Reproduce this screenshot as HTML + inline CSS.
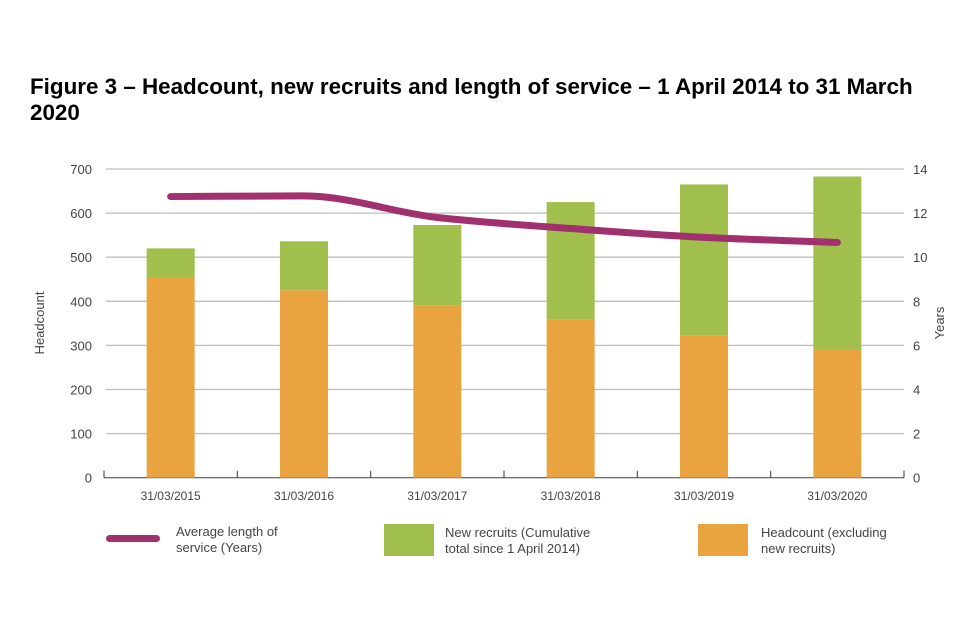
<!DOCTYPE html>
<html><head><meta charset="utf-8"><style>
body{margin:0;background:#fff;width:960px;height:640px;overflow:hidden;font-family:"Liberation Sans",sans-serif}
h1{position:absolute;left:30px;top:74px;margin:0;font-size:22.4px;font-weight:bold;line-height:26px;color:#000;width:930px;white-space:nowrap}
svg{position:absolute;left:0;top:0}
svg text{font-family:"Liberation Sans",sans-serif;fill:#444}
</style></head><body>
<h1>Figure 3 – Headcount, new recruits and length of service – 1 April 2014 to 31 March<br>2020</h1>
<svg id="c" width="960" height="640"></svg>
<script>
const categories=["31/03/2015","31/03/2016","31/03/2017","31/03/2018","31/03/2019","31/03/2020"];
const headcount=[454,425,391,359,322,292];
const newRecruits=[66,111,182,266,343,391];
const avgService=[12.75,12.78,11.8,11.3,10.9,10.67];
const leftTicks=[0,100,200,300,400,500,600,700];
const rightTicks=[0,2,4,6,8,10,12,14];
const svg=document.getElementById('c');
const NS='http://www.w3.org/2000/svg';
const x0=104,x1=904,y0=477.7,y1=169;
const yL=v=>y0-(v/700)*(y0-y1);
const yR=v=>y0-(v/14)*(y0-y1);
const bw=(x1-x0)/categories.length;
const xc=i=>x0+bw*(i+0.5);
function mk(t,a){const e=document.createElementNS(NS,t);for(const k in a)e.setAttribute(k,a[k]);svg.appendChild(e);return e;}
leftTicks.forEach((v,i)=>{
 if(v>0){const g=mk('line',{x1:x0+2,x2:x1,y1:yL(v),y2:yL(v),stroke:'#bdbdbd','stroke-width':1.3});
 
 }
 const t=mk('text',{x:92,y:yL(v)+5,'text-anchor':'end','font-size':13});t.textContent=v;
 
 
});
rightTicks.forEach(v=>{
 const t=mk('text',{x:913,y:yR(v)+5,'font-size':13});t.textContent=v;
 
 
});
const ax=mk('line',{x1:x0,x2:x1,y1:y0,y2:y0,stroke:'#555','stroke-width':1.2});


for(let i=0;i<=categories.length;i++){
 const tk=mk('line',{x1:x0+bw*i,x2:x0+bw*i,y1:y0-7,y2:y0,stroke:'#555','stroke-width':1.2});
 
 
}
categories.forEach((c,i)=>{
 const o=mk('rect',{x:xc(i)-24,y:yL(headcount[i]),width:48,height:y0-yL(headcount[i]),fill:'#e9a440'});
 
 
 const top=headcount[i]+newRecruits[i];
 const g=mk('rect',{x:xc(i)-24,y:yL(top),width:48,height:yL(headcount[i])-yL(top),fill:'#a0bf4d'});
 
 
 const t=mk('text',{x:xc(i),y:500,'text-anchor':'middle','font-size':12});t.textContent=c;
 
 
});
const pts=avgService.map((v,i)=>[xc(i),yR(v)]);
const n=pts.length,dl=[],m=[];
for(let i=0;i<n-1;i++)dl.push((pts[i+1][1]-pts[i][1])/(pts[i+1][0]-pts[i][0]));
for(let i=0;i<n;i++){
 if(i===0)m.push(dl[0]);else if(i===n-1)m.push(dl[n-2]);
 else m.push(dl[i-1]*dl[i]<=0?0:2/(1/dl[i-1]+1/dl[i]));
}
let d='M'+pts[0][0]+','+pts[0][1];
for(let i=0;i<n-1;i++){
 const h=(pts[i+1][0]-pts[i][0])/3;
 d+=` C${pts[i][0]+h},${pts[i][1]+m[i]*h} ${pts[i+1][0]-h},${pts[i+1][1]-m[i+1]*h} ${pts[i+1][0]},${pts[i+1][1]}`;
}
const ln=mk('path',{d:d,fill:'none',stroke:'#a0306e','stroke-width':7,'stroke-linecap':'round'});


const yl=mk('text',{transform:'translate(44,323) rotate(-90)','text-anchor':'middle','font-size':13});yl.textContent='Headcount';


const yr=mk('text',{transform:'translate(944,323) rotate(-90)','text-anchor':'middle','font-size':13});yr.textContent='Years';


</script>
<div style="position:absolute;left:0;top:520px;width:960px;height:50px;font-size:13px;color:#444;line-height:16px">
 <div style="position:absolute;left:106px;top:15px;width:54px;height:7px;border-radius:4px;background:#a0306e"></div>
 <div style="position:absolute;left:176px;top:4px">Average length of<br>service (Years)</div>
 <div style="position:absolute;left:384px;top:4px;width:50px;height:32px;background:#a0bf4d"></div>
 <div style="position:absolute;left:445px;top:5px">New recruits (Cumulative<br>total since 1 April 2014)</div>
 <div style="position:absolute;left:698px;top:4px;width:50px;height:32px;background:#e9a440"></div>
 <div style="position:absolute;left:761px;top:5px">Headcount (excluding<br>new recruits)</div>
</div>
</body></html>
